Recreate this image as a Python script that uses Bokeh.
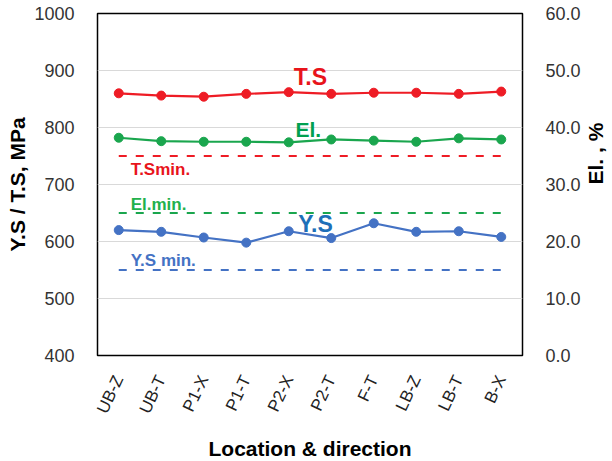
import math
from bokeh.plotting import figure
from bokeh.models import (FactorRange, Range1d, LinearAxis, FixedTicker,
                          NumeralTickFormatter, Label, Title)
from bokeh.embed import file_html
from bokeh.resources import INLINE

# ---- data ----
categories = ["UB-Z", "UB-T", "P1-X", "P1-T", "P2-X", "P2-T", "F-T", "LB-Z", "LB-T", "B-X"]
ts_values = [860, 856, 854, 859, 862, 859, 861, 861, 859, 863]
el_values = [38.2, 37.6, 37.5, 37.5, 37.4, 37.9, 37.7, 37.5, 38.1, 37.9]
ys_values = [620, 617, 607, 598, 618, 606, 632, 617, 618, 608]
ts_min = 750
el_min = 25
ys_min = 550
left_ticks = [400, 500, 600, 700, 800, 900, 1000]
right_ticks = [0, 10, 20, 30, 40, 50, 60]

RED = "#ee1c25"
GREEN = "#1aa64e"
BLUE = "#4472c4"
FONT = "Liberation Sans"

p = figure(x_range=FactorRange(*categories, range_padding=0),
           y_range=Range1d(400, 1000),
           frame_width=425, frame_height=342,
           min_border_left=92, min_border_right=87,
           min_border_top=13, min_border_bottom=98,
           output_backend="svg", toolbar_location=None)
p.extra_y_ranges = {"el": Range1d(0, 60)}

p.outline_line_color = "black"
p.outline_line_width = 1.5
p.xgrid.grid_line_color = None
p.ygrid.grid_line_color = "#d9d9d9"
p.ygrid.grid_line_width = 1
p.yaxis.ticker = FixedTicker(ticks=left_ticks)

# left axis
ya = p.yaxis[0]
ya.major_label_text_font = FONT
ya.major_label_text_font_size = "18px"
ya.major_label_text_color = "#333333"
ya.major_label_standoff = 17
ya.major_tick_line_color = None
ya.minor_tick_line_color = None
ya.axis_line_color = None

# bottom axis
xa = p.xaxis[0]
xa.axis_label = "Location & direction"
xa.axis_label_text_font = FONT
xa.axis_label_text_font_size = "21px"
xa.axis_label_text_font_style = "bold"
xa.axis_label_text_color = "black"
xa.axis_label_standoff = 14
xa.major_label_text_font = FONT
xa.major_label_text_font_size = "17px"
xa.major_label_text_color = "#222222"
xa.major_label_orientation = 1.13
xa.major_label_standoff = 15
xa.major_tick_line_color = None
xa.axis_line_color = None

# right axis
ra = LinearAxis(y_range_name="el", ticker=FixedTicker(ticks=right_ticks),
                formatter=NumeralTickFormatter(format="0.0"))
ra.axis_label = "El. , %"
ra.axis_label_orientation = math.pi / 2
ra.axis_label_text_font = FONT
ra.axis_label_text_font_size = "21px"
ra.axis_label_text_font_style = "bold"
ra.axis_label_text_color = "black"
ra.axis_label_standoff = 12
ra.major_label_text_font = FONT
ra.major_label_text_font_size = "18px"
ra.major_label_text_color = "#333333"
ra.major_label_standoff = 17
ra.major_tick_line_color = None
ra.minor_tick_line_color = None
ra.axis_line_color = None
p.add_layout(ra, "right")

# left axis title (slightly above frame centre, as in the reference)
p.add_layout(Title(text="Y.S / T.S, MPa", align="center", offset=16, standoff=6,
                   text_font=FONT, text_font_size="21px", text_font_style="bold",
                   text_color="black"), "left")

# min lines
p.line(categories, [ts_min] * len(categories), line_color=RED, line_width=2, line_dash="8 9")
p.line(categories, [el_min] * len(categories), line_color=GREEN, line_width=2, line_dash="8 9",
       y_range_name="el")
p.line(categories, [ys_min] * len(categories), line_color=BLUE, line_width=2, line_dash="8 9")

# series
p.line(categories, ts_values, line_color=RED, line_width=2.2)
p.scatter(categories, ts_values, size=9, color=RED)
p.line(categories, el_values, line_color=GREEN, line_width=2.2, y_range_name="el")
p.scatter(categories, el_values, size=9, color=GREEN, y_range_name="el")
p.line(categories, ys_values, line_color=BLUE, line_width=2.2)
p.scatter(categories, ys_values, size=9, color=BLUE)

def add_label(text, x, y, color, size, align="center"):
    p.add_layout(Label(x=x, y=y, text=text, text_color=color, text_font=FONT,
                       text_font_size=size, text_font_style="bold",
                       text_align=align, text_baseline="middle"))

add_label("T.S", 5.01, 889, "#e8141b", "23px")
add_label("El.", 4.96, 796, "#00a050", "21px")
add_label("Y.S", 5.13, 630, "#1e6fb8", "23px")
add_label("T.Smin.", 0.78, 726, "#e8141b", "17px", "left")
add_label("El.min.", 0.78, 665, "#22b14c", "17px", "left")
add_label("Y.S min.", 0.78, 567, BLUE, "17px", "left")

open("out.html", "w").write(file_html(p, INLINE))
